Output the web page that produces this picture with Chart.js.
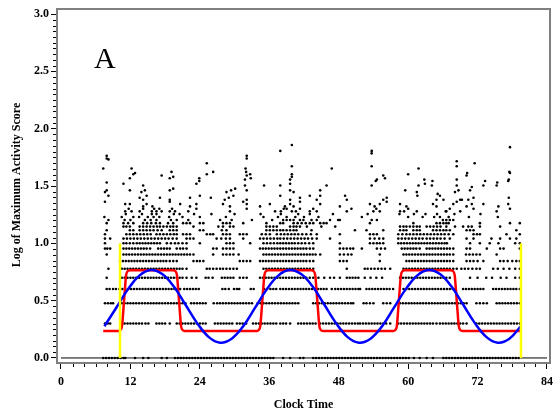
<!DOCTYPE html>
<html>
<head>
<meta charset="utf-8">
<script src="https://cdn.jsdelivr.net/npm/chart.js@4.4.1/dist/chart.umd.min.js"></script>
<style>
html, body { margin: 0; padding: 0; background: #fff; }
</style>
</head>
<body>
<canvas id="activityChart" width="555" height="416"></canvas>
<script>
// axis ticks
const xTicks = [0, 12, 24, 36, 48, 60, 72, 84];
const yTicks = [0.0, 0.5, 1.0, 1.5, 2.0, 2.5, 3.0];

// score levels (log of score) and the clock times of the dots on each level
const levelY = [0, 0.301, 0.477, 0.602, 0.699, 0.778, 0.845, 0.903, 0.954, 1.0,
                1.041, 1.079, 1.114, 1.146, 1.176, 1.204, 1.230, 1.255, 1.279, 1.301];

const lvl0 = [7.3,7.8,8.3,8.8,9.3,9.8,10.3,10.8,11.1,12.8,14.2,15.1,17.4,18.3,19.7,20.2,20.7,21.2,21.7,22.2,22.7,23.2,23.7,24.2,24.7,25.2,25.7,26.2,26.7,27.2,27.7,28.2,28.7,29.2,29.7,30.2,30.7,31.2,31.7,32.2,32.7,33.2,33.7,34.2,34.7,35.2,35.7,36.2,36.7,38.4,39.6,41.3,41.9,43.6,44.1,44.6,45.1,45.6,46.1,46.6,47.1,47.6,48.1,48.6,49.1,49.6,50.1,50.6,51.1,51.6,52.1,52.6,53.1,53.6,54.1,54.6,55.1,55.6,56.1,56.6,57.1,57.6,58.1,58.6,59.1,59.6,60.1,61.0,62.0,63.2,64.3,66.1,66.6,67.1,67.6,68.1,68.6,69.1,69.6,70.1,70.6,71.1,71.6,72.1,72.6,73.1,73.6,74.1,74.6,75.1,75.6,76.1,76.6,77.1,77.6,78.1,78.6,79.1];
const lvl1 = [7.6,8.1,8.5,10.5,11.0,11.5,12.0,12.5,13.0,13.5,14.0,14.6,15.1,16.5,17.0,17.5,18.0,18.8,20.0,20.5,21.0,21.5,22.0,22.5,23.0,23.5,24.0,24.5,25.0,26.6,27.1,27.6,28.1,28.6,29.1,29.6,30.4,30.9,31.4,32.0,33.2,33.7,34.2,34.7,35.2,35.7,36.2,36.7,37.2,37.9,38.4,38.9,39.6,41.0,41.5,42.0,42.5,43.0,43.5,44.0,44.8,45.3,45.8,46.3,46.8,47.3,47.8,48.3,48.8,49.3,49.8,50.3,50.8,51.3,51.7,52.2,52.7,53.2,53.7,54.2,54.7,55.2,55.7,56.2,56.9,58.3,58.8,59.3,59.8,60.3,60.8,61.3,61.8,62.3,62.8,63.3,63.8,64.3,64.9,65.5,66.0,66.5,67.0,67.5,68.0,68.5,69.0,69.5,70.1,71.8,72.3,72.8,73.3,73.8,74.3,74.8,75.3,75.8,76.3,76.8,77.3,77.8,78.3,78.8,79.3];
const lvl2 = [7.6,8.1,8.6,9.0,10.5,11.0,11.5,12.0,12.5,13.0,13.5,14.0,14.5,15.0,15.5,16.0,16.5,17.0,17.5,18.0,18.5,19.0,19.5,20.0,20.5,21.0,21.5,22.5,23.0,23.5,24.0,24.5,25.0,26.4,27.0,27.5,28.0,28.5,29.0,29.5,30.0,30.5,31.0,31.5,32.0,32.5,33.0,34.0,34.5,35.0,35.5,36.0,36.5,37.0,37.5,38.0,38.5,39.0,39.5,40.0,40.5,41.0,43.6,44.1,44.6,45.1,45.6,46.1,46.6,47.1,47.6,48.1,48.6,49.1,49.6,50.1,50.5,52.3,52.8,53.4,54.0,55.7,56.3,56.9,58.6,59.1,59.6,60.1,60.6,61.1,61.6,62.1,62.6,63.1,63.6,64.1,64.6,65.1,65.6,66.1,66.6,67.1,67.6,68.1,68.6,69.1,69.6,70.1,71.8,72.4,73.0,73.6,75.3,75.8,76.3,76.8,77.3,77.8,78.3,78.8,79.3];
const lvl3 = [7.9,8.4,9.0,9.5,10.1,10.6,11.1,11.6,12.1,12.6,13.1,13.6,14.1,14.6,15.1,15.6,16.1,16.6,17.1,17.6,18.1,18.6,19.1,19.6,20.1,20.6,21.3,21.8,22.3,22.8,23.3,23.8,27.9,28.4,29.0,29.9,30.4,30.8,32.8,33.3,35.1,35.6,36.2,36.7,37.2,37.9,38.4,38.9,39.4,39.9,40.4,40.9,41.4,41.9,42.4,42.9,43.4,43.9,44.4,44.9,45.4,45.9,46.8,47.4,47.9,48.4,48.9,49.4,49.9,50.4,50.9,51.4,51.7,52.8,53.3,53.8,54.3,54.8,55.3,55.8,56.3,56.8,57.4,59.2,59.7,60.2,60.7,61.2,61.7,62.2,62.7,63.2,63.7,64.2,64.7,65.2,65.7,66.2,66.7,67.2,67.7,68.2,69.5,70.0,70.5,71.0,71.5,72.0,72.5,73.0,74.7,75.2,75.7,76.2,76.7,77.2,77.7,78.2,78.7,79.3];
const lvl4 = [7.9,10.5,11.0,11.5,12.0,12.5,13.0,13.5,14.0,14.5,15.0,15.5,16.0,16.5,17.0,17.5,18.0,18.5,19.0,19.5,20.0,20.5,21.0,21.7,22.6,23.4,25.0,25.5,26.2,27.8,28.3,28.8,29.3,29.8,30.9,31.5,32.1,34.4,34.9,35.4,35.9,36.4,36.9,37.4,37.9,38.4,38.9,39.4,39.9,40.4,40.9,41.4,41.9,42.4,43.0,43.6,44.5,45.5,46.5,47.2,48.2,49.4,49.9,50.4,50.9,51.4,52.5,53.5,54.5,55.5,58.6,59.1,59.6,60.1,60.6,61.1,61.6,62.1,62.6,63.1,63.6,64.1,64.6,65.1,65.6,66.1,66.6,67.2,70.7,72.0,73.5,74.5,76.0,77.0,78.5,79.3];
const lvl5 = [8.2,10.5,11.0,11.5,12.0,12.5,13.0,13.5,14.0,14.5,15.0,15.5,16.0,16.5,17.0,17.5,18.0,18.5,19.0,19.5,20.0,20.5,21.0,21.7,25.2,25.7,26.3,26.9,27.5,28.0,28.6,29.2,29.8,30.4,35.0,35.5,36.0,36.5,37.0,37.5,38.0,38.5,39.0,39.5,40.0,40.5,41.0,41.5,42.0,42.5,43.0,43.6,49.4,52.5,53.0,53.6,54.2,54.8,55.4,56.0,56.9,59.2,59.7,60.2,60.7,61.2,61.7,62.2,62.7,63.2,63.7,64.2,64.7,65.2,65.7,66.2,66.7,67.2,67.8,68.4,69.2,69.8,70.4,71.1,71.8,72.4,74.7,75.5,76.5,77.5,78.5,79.3];
const lvl6 = [10.2,10.7,11.2,11.7,12.2,12.7,13.2,13.7,14.2,14.7,15.2,15.7,16.2,16.7,17.2,17.7,18.2,18.8,19.4,20.0,22.9,23.5,24.0,24.6,30.9,31.5,32.1,32.7,34.4,34.9,35.4,35.9,36.4,36.9,37.4,37.9,38.4,38.9,39.4,39.9,40.4,40.9,41.4,41.9,42.4,43.0,43.6,48.2,48.8,49.4,55.1,59.7,60.2,60.7,61.2,61.7,62.2,62.7,63.2,63.7,64.2,64.7,65.2,65.7,66.2,66.7,67.2,67.8,70.1,70.7,71.3,72.0,73.0,75.9,76.5,77.2,78.0,78.7,79.3];
const lvl7 = [7.9,10.8,11.3,11.8,12.3,12.8,13.3,13.8,14.3,14.8,15.3,15.8,16.3,16.8,17.3,17.8,18.3,18.8,19.3,19.8,20.3,20.8,21.3,21.8,22.3,22.9,26.3,28.0,28.6,29.2,29.8,30.7,35.0,35.5,36.0,36.5,37.0,37.5,38.0,38.5,39.0,39.5,40.0,40.5,41.0,41.5,42.0,42.5,43.0,43.5,44.0,44.8,48.2,48.9,49.6,50.2,55.1,59.2,59.7,60.2,60.7,61.2,61.7,62.2,62.7,63.2,63.7,64.2,64.7,65.2,65.7,66.2,66.7,67.2,67.8,70.0,70.6,71.2,71.8,72.4,75.3];
const lvl8 = [7.6,8.0,8.5,10.8,11.3,11.8,12.3,12.8,13.3,13.8,14.3,14.8,15.4,16.8,17.3,17.8,18.3,18.8,20.0,20.6,21.1,21.7,26.3,26.9,28.0,28.6,29.2,29.8,34.4,34.9,35.4,35.9,36.4,36.9,37.4,37.9,38.4,38.9,39.4,39.9,40.4,40.9,41.4,41.9,42.4,43.0,43.6,48.2,48.8,49.4,50.0,50.5,52.0,54.6,55.3,56.0,58.9,59.4,59.9,60.4,60.9,61.4,62.0,63.2,63.7,64.2,64.7,65.2,65.7,66.2,66.7,67.2,67.8,70.1,70.7,73.6,75.9,76.5,79.3];
const lvl9 = [7.6,10.8,11.3,11.9,12.5,13.1,13.6,14.1,14.6,15.1,15.6,16.1,16.6,17.1,18.3,19.0,19.7,20.3,21.0,21.7,24.0,28.6,29.2,29.8,32.7,35.0,35.6,36.2,36.8,37.4,37.9,38.4,38.9,39.4,39.9,40.4,41.0,41.6,42.2,42.9,43.6,48.2,53.4,54.0,54.6,55.1,55.7,58.3,58.8,59.3,59.8,60.3,60.8,61.3,61.8,62.3,62.8,63.3,63.8,64.3,64.8,65.3,65.8,66.3,66.7,70.7,72.4,74.1,75.6,78.5,79.3];
const lvl10 = [7.6,8.5,10.8,11.4,12.0,12.6,13.2,13.8,14.4,15.0,15.6,16.2,16.8,17.4,18.0,18.6,19.3,20.0,21.7,22.3,22.9,26.9,27.7,28.5,29.2,31.5,34.4,35.0,35.6,36.2,36.8,37.4,37.9,38.5,39.1,39.7,40.3,40.9,41.5,42.1,42.7,43.4,44.2,46.5,53.4,54.2,55.0,55.7,58.3,58.9,59.5,60.1,60.7,61.3,61.9,62.5,63.2,63.8,64.4,65.0,65.6,66.3,67.2,70.1,71.3,74.4,75.9,77.6,78.7];
const lvl11 = [7.6,11.3,11.9,12.5,13.1,13.7,14.3,14.9,15.5,16.5,17.1,17.7,18.3,18.9,19.5,20.0,21.1,21.7,22.3,25.2,25.8,26.3,28.0,28.6,29.2,30.9,31.5,32.1,34.7,35.4,36.1,37.3,38.0,38.6,39.2,39.8,40.4,41.0,41.7,42.4,43.2,44.2,48.2,53.4,54.0,54.6,58.3,59.0,59.7,60.3,60.9,61.5,62.1,62.7,63.3,63.9,64.5,65.1,65.7,66.3,67.0,67.8,71.3,71.9,72.4,77.0,79.3];
const lvl12 = [7.9,11.9,12.5,13.6,14.2,14.8,15.4,16.0,16.7,17.4,18.8,19.4,20.0,24.0,24.6,27.8,28.6,35.5,36.1,36.7,37.3,37.9,38.4,39.0,39.6,40.2,40.7,43.3,50.8,52.8,55.7,58.6,59.2,59.7,60.9,61.5,62.0,64.3,64.9,65.5,66.1,66.6,67.2,70.1,70.7,71.3,78.7];
const lvl13 = [10.8,11.3,11.9,13.6,14.2,14.8,15.4,16.0,16.6,17.1,17.7,18.3,18.9,19.4,20.0,22.9,27.2,28.0,29.2,29.8,35.5,36.1,36.7,37.3,39.6,40.2,40.7,41.3,42.5,45.0,47.4,58.6,59.2,59.7,60.3,60.9,61.5,62.0,63.2,63.8,64.4,65.0,65.6,66.6,68.1,69.5,70.4,71.0,72.4,75.9];
const lvl14 = [7.9,10.8,11.6,12.5,14.2,14.9,15.6,16.4,17.1,18.5,19.4,21.1,21.7,22.3,24.0,24.6,28.0,28.6,29.2,31.5,35.5,37.9,38.4,40.2,40.9,41.6,42.3,43.0,43.6,44.8,45.4,45.9,53.4,60.9,64.9,65.5,66.1,66.6,67.0,72.4,77.6,79.3];
const lvl15 = [8.2,11.0,12.0,14.5,15.5,16.5,19.0,20.0,22.0,27.5,29.5,33.0,36.5,38.4,39.0,39.6,40.2,41.3,41.9,43.3,44.2,46.5,47.9,48.2,53.7,54.6,66.0,66.6,67.2,67.8];
const lvl16 = [7.5,10.5,12.5,13.5,15.0,16.0,17.0,18.7,21.0,24.0,28.5,35.0,37.5,39.0,40.5,42.0,44.5,52.0,60.0,62.5,64.5,65.5,67.0,70.5,75.5];
const lvl17 = [11.2,14.0,15.7,16.5,19.5,20.5,23.0,26.0,30.0,34.5,38.0,41.0,43.0,47.0,53.0,58.5,61.0,63.0,65.0,68.0,72.5];
const lvl18 = [11.1,12.2,13.6,15.7,16.5,17.4,18.8,19.7,22.0,29.2,37.0,38.0,39.9,40.6,43.0,44.2,49.4,54.0,55.1,58.6,59.3,61.5,66.5,66.6,69.0,75.3];
const lvl19 = [11.7,14.2,16.1,17.0,19.2,23.4,32.1,38.5,39.0,41.3,43.6,50.2,54.5,60.0,67.2,71.3,77.6];
const levelX = [lvl0, lvl1, lvl2, lvl3, lvl4, lvl5, lvl6, lvl7, lvl8, lvl9,
                lvl10, lvl11, lvl12, lvl13, lvl14, lvl15, lvl16, lvl17, lvl18, lvl19];

// sparse high scores as [clock time, log score]
const highScores = [
  [11.1,1.342],[11.9,1.342],[14.2,1.322],[14.8,1.342],[15.8,1.322],[18.8,1.362],[20.6,1.342],[22.3,1.322],[23.4,1.342],[28.0,1.342],[29.2,1.322],[31.5,1.362],[32.1,1.342],[34.4,1.322],[36.1,1.342],[38.7,1.322],
  [39.6,1.342],[40.2,1.322],[41.3,1.362],[44.8,1.342],[48.2,1.322],[53.4,1.342],[54.2,1.322],[55.1,1.342],[56.3,1.362],[58.6,1.342],[59.7,1.322],[64.3,1.342],[64.9,1.322],[67.8,1.342],[68.4,1.362],[70.1,1.322],[71.0,1.342],[73.0,1.342],[75.6,1.322],[77.3,1.342],[7.6,1.362],
  [8.2,1.415],[13.6,1.398],[14.2,1.380],[14.8,1.415],[17.1,1.398],[18.8,1.380],[22.3,1.398],[24.0,1.415],[28.3,1.380],[29.0,1.398],[29.8,1.415],[32.1,1.380],[37.9,1.415],[39.6,1.380],[41.3,1.398],[43.0,1.415],[44.2,1.380],[44.8,1.415],[49.1,1.415],[49.4,1.380],[55.7,1.380],[56.3,1.398],[64.9,1.380],[65.5,1.415],[66.1,1.380],[69.0,1.380],[69.3,1.380],[70.4,1.380],[71.3,1.398],[77.4,1.398],[25.9,1.398],[61.6,1.415],[65.1,1.431],
  [7.6,1.447],[7.9,1.462],[11.9,1.462],[13.9,1.447],[14.5,1.462],[18.8,1.462],[19.4,1.477],[28.6,1.447],[29.4,1.462],[30.1,1.477],[32.1,1.462],[39.6,1.462],[40.2,1.447],[44.8,1.462],[59.5,1.462],[61.5,1.447],[68.1,1.447],[68.7,1.462],[70.7,1.462],[71.0,1.491],
  [37.9,1.505],[39.6,1.519],[45.9,1.505],[53.7,1.505],[61.8,1.505],[62.9,1.519],[64.1,1.505],[68.4,1.505],[73.0,1.505],[75.3,1.505],[7.9,1.531],[10.8,1.519],[14.2,1.505],[23.4,1.519],[31.8,1.505],[35.1,1.505],[73.3,1.544],[75.4,1.531],[54.4,1.544],[64.2,1.544],
  [11.9,1.568],[18.8,1.568],[19.4,1.580],[31.8,1.556],[23.9,1.568],[23.9,1.544],[32.8,1.568],[12.5,1.602],[12.8,1.613],[17.4,1.591],[19.1,1.623],[25.2,1.602],[26.3,1.623],[32.1,1.591],[32.7,1.602],
  [39.6,1.556],[39.9,1.580],[54.6,1.556],[56.0,1.568],[68.4,1.556],[77.3,1.544],[77.4,1.556],[39.9,1.602],[55.7,1.591],[60.0,1.602],[70.1,1.591],[70.2,1.613],[77.5,1.623],[77.6,1.613],[62.8,1.556],
  [7.3,1.653],[12.2,1.653],[25.2,1.699],[31.9,1.653],[32.0,1.623],[7.9,1.740],[8.2,1.732],[32.1,1.740],[7.9,1.763],[32.1,1.763],[37.9,1.806],[46.8,1.653],[61.8,1.653],
  [39.9,1.672],[53.7,1.672],[68.4,1.672],[68.4,1.716],[71.5,1.699],[53.7,1.785],[53.7,1.806],[77.6,1.839],[39.9,1.857]
];

// fitted curves
const blueX = [7.5,9.5,11.5,13.5,15.5,17.5,19.5,21.5,23.5,25.5,27.5,29.5,31.5,33.5,35.5,37.5,39.5,41.5,43.5,45.5,47.5,49.5,51.5,53.5,55.5,57.5,59.5,61.5,63.5,65.5,67.5,69.5,71.5,73.5,75.5,77.5,79.5];
const blueY = [0.277,0.434,0.594,0.716,0.767,0.732,0.623,0.466,0.306,0.184,0.133,0.168,
               0.277,0.434,0.594,0.716,0.767,0.732,0.623,0.466,0.306,0.184,0.133,0.168,
               0.277,0.434,0.594,0.716,0.767,0.732,0.623,0.466,0.306,0.184,0.133,0.168,0.277];
const redX = [7.3,9.9,10.3,10.55,10.75,10.9,11.05,11.25,11.5,11.9,
              19.4,19.8,20.05,20.25,20.4,20.55,20.75,21.0,21.4,
              33.8,34.2,34.45,34.65,34.8,34.95,35.15,35.4,35.8,
              43.3,43.7,43.95,44.15,44.3,44.45,44.65,44.9,45.3,
              57.4,57.8,58.05,58.25,58.4,58.55,58.75,59.0,59.4,
              67.4,67.8,68.05,68.25,68.4,68.55,68.75,69.0,69.4,79.4];
const redY = [0.235,0.235,0.245,0.28,0.40,0.50,0.60,0.72,0.755,0.765,
              0.765,0.755,0.72,0.60,0.50,0.40,0.28,0.245,0.235,
              0.235,0.245,0.28,0.40,0.50,0.60,0.72,0.755,0.765,
              0.765,0.755,0.72,0.60,0.50,0.40,0.28,0.245,0.235,
              0.235,0.245,0.28,0.40,0.50,0.60,0.72,0.755,0.765,
              0.765,0.755,0.72,0.60,0.50,0.40,0.28,0.245,0.235,0.235];
const yellowX = [10.2, 79.5];
const yellowTop = 1.0;

const SERIF = '"Liberation Serif", "DejaVu Serif", serif';

// build the dot list
var dots = [];
levelX.forEach((xs, i) => xs.forEach(x => dots.push({x: x, y: levelY[i]})));
highScores.forEach(p => dots.push({x: p[0], y: p[1]}));

var bluePts = blueX.map((x, i) => ({x: x, y: blueY[i]}));
var redPts = redX.map((x, i) => ({x: x, y: redY[i]}));

// frame, minor ticks, titles and panel letter
const decorPlugin = {
    id: 'decor',
    afterDraw(chart) {
        const ctx = chart.ctx;
        const a = chart.chartArea;
        const xs = chart.scales.x, ys = chart.scales.y;
        ctx.save();
        ctx.strokeStyle = '#808080';
        ctx.lineWidth = 2;
        ctx.beginPath();
        ctx.moveTo(a.left, a.bottom);
        ctx.lineTo(a.left, a.top);
        ctx.lineTo(a.right, a.top);
        ctx.lineTo(a.right, a.bottom);
        ctx.stroke();

        ctx.strokeStyle = '#000';
        ctx.lineWidth = 1;
        ctx.beginPath();
        for (let v = 0; v <= 84; v += 2) {
            if (v % 12 === 0) continue;
            const px = Math.round(xs.getPixelForValue(v)) + 0.5;
            ctx.moveTo(px, a.bottom + 1);
            ctx.lineTo(px, a.bottom + 4);
        }
        for (let k = 0; k <= 60; k++) {
            if (k % 10 === 0) continue;
            const py = Math.round(ys.getPixelForValue(k * 0.05)) + 0.5;
            ctx.moveTo(a.left - 1, py);
            ctx.lineTo(a.left - 4, py);
        }
        ctx.stroke();

        ctx.fillStyle = '#000';
        ctx.font = 'bold 12px ' + SERIF;
        ctx.textAlign = 'center';
        ctx.textBaseline = 'middle';
        ctx.fillText('Clock Time', (a.left + a.right) / 2, 405);
        ctx.translate(17, 185);
        ctx.rotate(-Math.PI / 2);
        ctx.fillText('Log of Maximum Activity Score', 0, 0);
        ctx.restore();

        ctx.save();
        ctx.fillStyle = '#000';
        ctx.font = '30px ' + SERIF;
        ctx.textAlign = 'left';
        ctx.textBaseline = 'alphabetic';
        ctx.fillText('A', 94, 68);
        ctx.restore();
    }
};

document.addEventListener('DOMContentLoaded', function () {
    var ctx = document.getElementById('activityChart').getContext('2d');
    var chart = new Chart(ctx, {
        type: 'scatter',
        data: {
            datasets: [{
                label: 'scores',
                data: dots,
                pointStyle: 'circle',
                pointRadius: 1.3,
                pointBorderWidth: 0,
                backgroundColor: '#000',
                borderColor: '#000',
                order: 5
            }, {
                label: 'zero',
                data: [{x: 0, y: 0}, {x: 84, y: 0}],
                showLine: true,
                borderColor: '#000',
                borderWidth: 1,
                pointRadius: 0,
                order: 4
            }, {
                label: 'red fit',
                data: redPts,
                showLine: true,
                borderColor: '#ff0000',
                borderWidth: 2.5,
                pointRadius: 0,
                cubicInterpolationMode: 'monotone',
                order: 3
            }, {
                label: 'cosine fit',
                data: bluePts,
                showLine: true,
                borderColor: '#0000ff',
                borderWidth: 2.5,
                pointRadius: 0,
                tension: 0.4,
                order: 2
            }, {
                label: 'start',
                data: [{x: yellowX[0], y: 0}, {x: yellowX[0], y: yellowTop}],
                showLine: true,
                borderColor: '#ffff00',
                borderWidth: 2.5,
                pointRadius: 0,
                order: 1
            }, {
                label: 'end',
                data: [{x: yellowX[1], y: 0}, {x: yellowX[1], y: yellowTop}],
                showLine: true,
                borderColor: '#ffff00',
                borderWidth: 2.5,
                pointRadius: 0,
                order: 1
            }]
        },
        options: {
            responsive: false,
            animation: false,
            events: [],
            layout: {padding: {left: 0, right: 5, top: 9, bottom: 0}},
            plugins: {legend: {display: false}, tooltip: {enabled: false}},
            scales: {
                x: {
                    type: 'linear',
                    min: -0.69,
                    max: 84.52,
                    afterFit: s => { s.height = 53; s.paddingLeft = 0; s.paddingRight = 0; },
                    afterBuildTicks: s => { s.ticks = xTicks.map(v => ({value: v})); },
                    ticks: {
                        color: '#000',
                        font: {family: SERIF, size: 12, weight: 'bold'},
                        padding: 6,
                        maxRotation: 0,
                        autoSkip: false
                    },
                    grid: {drawOnChartArea: false, tickLength: 6, color: '#000', lineWidth: 1},
                    border: {color: '#808080', width: 2}
                },
                y: {
                    min: -0.044,
                    max: 3.044,
                    afterFit: s => { s.width = 57; s.paddingTop = 0; s.paddingBottom = 0; },
                    afterBuildTicks: s => { s.ticks = yTicks.map(v => ({value: v})); },
                    ticks: {
                        color: '#000',
                        font: {family: SERIF, size: 12, weight: 'bold'},
                        padding: 2,
                        callback: v => Number(v).toFixed(1)
                    },
                    grid: {drawOnChartArea: false, tickLength: 6, color: '#000', lineWidth: 1},
                    border: {color: '#808080', width: 2}
                }
            }
        },
        plugins: [decorPlugin]
    });
});
</script>
</body>
</html>
